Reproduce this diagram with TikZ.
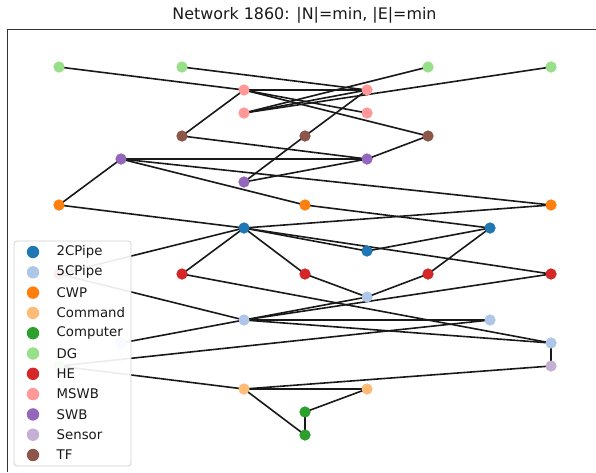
\documentclass[tikz,border=0pt]{standalone}
\usepackage{fontspec}
\setmainfont{DejaVu Sans}
\definecolor{c2cp}{HTML}{1F77B4}
\definecolor{c5cp}{HTML}{AEC7E8}
\definecolor{ccwp}{HTML}{FF7F0E}
\definecolor{ccmd}{HTML}{FFBB78}
\definecolor{ccom}{HTML}{2CA02C}
\definecolor{cdg}{HTML}{98DF8A}
\definecolor{che}{HTML}{D62728}
\definecolor{cmswb}{HTML}{FF9896}
\definecolor{cswb}{HTML}{9467BD}
\definecolor{csen}{HTML}{C5B0D5}
\definecolor{ctf}{HTML}{8C564B}
\tikzset{
  nd/.style={circle,inner sep=0pt,minimum size=11pt,draw=none,fill=#1},
  edge/.style={line width=1.6pt,black!90},
  leg/.style={anchor=west,inner sep=0pt,font=\fontsize{13.3}{14}\selectfont,text=black!90},
}
\begin{document}
\begin{tikzpicture}[x=1pt,y=-1pt]
\useasboundingbox (0,0) rectangle (596,472);
% title
\node[font=\fontsize{15.9}{18}\selectfont,text=black!90] (title) at (304.5,15) {Network 1860: |N|=min, |E|=min};
% axes frame
\draw[line width=1pt,black!80] (7,472) -- (7,29) -- (596,29);
% nodes
\node[nd=cdg] (dg1) at (59,67) {};
\node[nd=cdg] (dg2) at (182,67) {};
\node[nd=cdg] (dg3) at (428,67) {};
\node[nd=cdg] (dg4) at (551,67) {};
\node[nd=cmswb] (ms1) at (244,90) {};
\node[nd=cmswb] (ms2) at (367,90) {};
\node[nd=cmswb] (ms3) at (244,113) {};
\node[nd=cmswb] (ms4) at (367,113) {};
\node[nd=ctf] (tf1) at (182,136) {};
\node[nd=ctf] (tf2) at (305,136) {};
\node[nd=ctf] (tf3) at (428,136) {};
\node[nd=cswb] (sw1) at (121,159) {};
\node[nd=cswb] (sw2) at (367,159) {};
\node[nd=cswb] (sw3) at (244,182) {};
\node[nd=ccwp] (cw1) at (59,205) {};
\node[nd=ccwp] (cw2) at (305,205) {};
\node[nd=ccwp] (cw3) at (551,205) {};
\node[nd=c2cp] (pa) at (244,228) {};
\node[nd=c2cp] (pc) at (490,228) {};
\node[nd=c2cp] (pb) at (367,251) {};
\node[nd=che] (he0) at (59,274) {};
\node[nd=che] (he1) at (182,274) {};
\node[nd=che] (he2) at (305,274) {};
\node[nd=che] (he3) at (428,274) {};
\node[nd=che] (he4) at (551,274) {};
\node[nd=c5cp] (qa) at (367,297) {};
\node[nd=c5cp] (qb) at (244,320) {};
\node[nd=c5cp] (qc) at (490,320) {};
\node[nd=c5cp] (qd) at (551,343) {};
\node[nd=c5cp] (qe) at (121,343) {};
\node[nd=cdg] (dg5) at (59,366) {};
\node[nd=csen] (se) at (551,366) {};
\node[nd=ccmd] (cm1) at (244,389) {};
\node[nd=ccmd] (cm2) at (367,389) {};
\node[nd=ccom] (co1) at (305,412) {};
\node[nd=ccom] (co2) at (305,435) {};
% edges
\foreach \a/\b in {dg1/ms1,dg2/ms2,dg3/ms3,dg4/ms3,ms1/ms2,ms1/ms4,ms1/tf3,ms1/tf1,ms3/ms2,
  ms2/tf2,tf2/sw3,tf1/sw2,tf3/sw2,sw1/sw2,sw1/cw1,sw1/cw2,sw1/cw3,sw3/sw2,
  cw1/pa,cw2/pc,cw3/pa,pa/pb,pa/he4,pa/he1,pa/he2,pa/he0,pc/pb,pc/he3,
  he1/qd,he2/qa,he3/qa,he0/qb,qb/qa,qb/he4,qb/qc,qb/qd,qb/qe,
  dg5/qc,dg5/cm1,qd/se,se/cm1,cm1/cm2,cm1/co2,cm2/co1,co1/co2}
  {\draw[edge] (\a.center) -- (\b.center);}
% redraw nodes on top of the edges
\foreach \n/\c in {dg1/cdg,dg2/cdg,dg3/cdg,dg4/cdg,ms1/cmswb,ms2/cmswb,ms3/cmswb,ms4/cmswb,
  tf1/ctf,tf2/ctf,tf3/ctf,sw1/cswb,sw2/cswb,sw3/cswb,cw1/ccwp,cw2/ccwp,cw3/ccwp,
  pa/c2cp,pb/c2cp,pc/c2cp,he0/che,he1/che,he2/che,he3/che,he4/che,
  qa/c5cp,qb/c5cp,qc/c5cp,qd/c5cp,qe/c5cp,dg5/cdg,se/csen,cm1/ccmd,cm2/ccmd,co1/ccom,co2/ccom}
  {\fill[\c] (\n.center) circle (5.5pt);}
% legend
\draw[draw=black!18,fill=white,fill opacity=0.92,rounded corners=3pt,line width=0.8pt] (14,241) rectangle (131,466);
\foreach \c/\t [count=\i from 0] in {c2cp/2CPipe,c5cp/5CPipe,ccwp/CWP,ccmd/Command,ccom/Computer,cdg/DG,che/HE,cmswb/MSWB,cswb/SWB,csen/Sensor,ctf/TF}
{
  \fill[\c] (33,252+20.3*\i) circle (6.2pt);
  \node[leg] (l\i) at (56.5,252+20.3*\i) {\t};
}
\end{tikzpicture}
\end{document}
